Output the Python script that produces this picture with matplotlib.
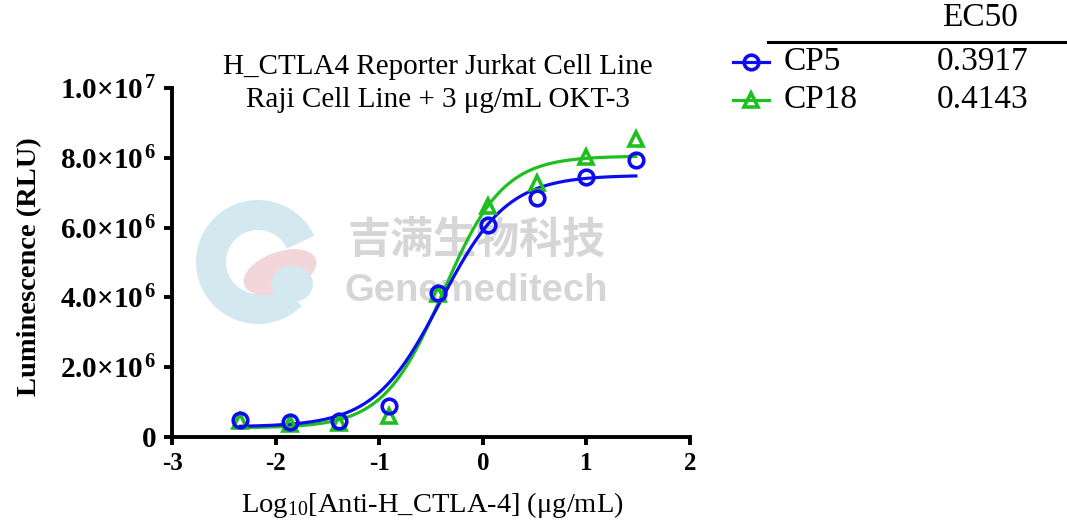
import numpy as np
import matplotlib
matplotlib.use("Agg")
import matplotlib.pyplot as plt
from matplotlib.lines import Line2D
from matplotlib.patches import Wedge, Ellipse

plt.rcParams['font.family'] = ['Liberation Serif', 'DejaVu Serif']
plt.rcParams['mathtext.fontset'] = 'custom'
plt.rcParams['mathtext.rm'] = 'Liberation Serif'
plt.rcParams['mathtext.it'] = 'Liberation Serif:italic'
plt.rcParams['mathtext.bf'] = 'Liberation Serif:bold'

# ---- data ----
log_conc = [-2.340, -1.863, -1.385, -0.908, -0.431, 0.046, 0.523, 1.000, 1.477]
cp5_rlu = [0.49e6, 0.43e6, 0.46e6, 0.89e6, 4.13e6, 6.08e6, 6.84e6, 7.45e6, 7.94e6]
cp18_rlu = [0.45e6, 0.38e6, 0.40e6, 0.60e6, 4.10e6, 6.63e6, 7.28e6, 8.02e6, 8.55e6]

series_names = ["CP5", "CP18"]
ec50_labels = ["0.3917", "0.4143"]
# 4PL fit parameters (bottom, top, EC50 ug/mL, hill)
cp5_fit = [0.29e6, 7.50e6, 0.3917, 1.35]
cp18_fit = [0.26e6, 8.05e6, 0.4143, 1.50]

xticks = [-3, -2, -1, 0, 1, 2]
yticks = [0, 2e6, 4e6, 6e6, 8e6, 1e7]
ytick_labels = ["0", r"$\mathbf{2.0{\times}10^{\,6}}$", r"$\mathbf{4.0{\times}10^{\,6}}$",
                r"$\mathbf{6.0{\times}10^{\,6}}$", r"$\mathbf{8.0{\times}10^{\,6}}$",
                r"$\mathbf{1.0{\times}10^{\,7}}$"]

blue = '#0c0cee'
green = '#1fbf1f'

W, H = 1067, 530


def fx(px):
    return px / W


def fy(py):
    return 1 - py / H


def fourpl(x, p):
    b, t, ec, h = p
    return b + (t - b) / (1 + 10 ** ((np.log10(ec) - x) * h))


fig = plt.figure(figsize=(10.67, 5.30), dpi=100)
ax = fig.add_axes([0.1612, 0.1755, 0.4855, 0.6585])

# watermark
wm = fig.add_axes([0, 0, 1, 1], zorder=-1)
wm.set_xlim(0, W); wm.set_ylim(H, 0); wm.axis('off')
wm.add_patch(Wedge((258, 262), 62, 45, 335, width=30, facecolor='#d3e8ef', edgecolor='none'))
wm.add_patch(Ellipse((280, 272), 76, 40, angle=-20, facecolor='#f3d6da', edgecolor='none'))
wm.add_patch(Ellipse((292, 284), 42, 36, facecolor='#d3e8ef', edgecolor='none'))
wm.text(476, 240, "吉满生物科技", fontsize=31, fontweight='bold', color='#d6d6d6',
        family=['Noto Sans CJK SC'], ha='center', va='center')
wm.text(476, 291, "Genemeditech", fontsize=27.5, fontweight='bold', color='#d6d6d6',
        family=['Liberation Sans'], ha='center', va='center')
ax.patch.set_alpha(0)

xs = np.linspace(log_conc[0], log_conc[-1], 300)
ax.plot(xs, fourpl(xs, cp18_fit), color=green, lw=2.3, zorder=2)
ax.plot(xs, fourpl(xs, cp5_fit), color=blue, lw=2.3, zorder=3)
ax.plot(log_conc, cp18_rlu, linestyle='none', marker='^', markersize=10,
        markerfacecolor='none', markeredgecolor=green, markeredgewidth=2.6, zorder=4)
ax.plot(log_conc, cp5_rlu, linestyle='none', marker='o', markersize=10.5,
        markerfacecolor='none', markeredgecolor=blue, markeredgewidth=2.6, zorder=5)

ax.set_xlim(-3, 2)
ax.set_ylim(0, 1e7)
ax.set_xticks(xticks)
ax.set_xticklabels([str(v) for v in xticks])
ax.set_yticks(yticks)
ax.set_yticklabels(ytick_labels)
for s in ['top', 'right']:
    ax.spines[s].set_visible(False)
for s in ['left', 'bottom']:
    ax.spines[s].set_linewidth(2.8)
ax.tick_params(axis='both', width=2.8, length=6, pad=5)
ax.tick_params(axis='x', labelsize=18)
ax.tick_params(axis='y', labelsize=21)
for lab in ax.get_xticklabels() + ax.get_yticklabels():
    lab.set_fontweight('bold')

fig.text(fx(30), fy(267), "Luminescence (RLU)", fontsize=20.5, fontweight='bold',
         rotation=90, ha='center', va='center')
fig.text(fx(432), fy(505), r"Log$_{10}$[Anti-H_CTLA-4] (μg/mL)", fontsize=20.5,
         ha='center', va='center')
fig.text(fx(438), fy(67), "H_CTLA4 Reporter Jurkat Cell Line", fontsize=21,
         ha='center', va='center')
fig.text(fx(438), fy(100), "Raji Cell Line + 3 μg/mL OKT-3", fontsize=21,
         ha='center', va='center')

# legend table
fig.text(fx(980), fy(18), "EC50", fontsize=24, ha='center', va='center')
fig.add_artist(Line2D([fx(768), fx(1067)], [fy(42), fy(42)], color='black', lw=2.2))
row_y = [62, 100]
styles = [(blue, 'o', 10.5), (green, '^', 10)]
for i, (name, val) in enumerate(zip(series_names, ec50_labels)):
    c, m, ms = styles[i]
    y = fy(row_y[i])
    fig.add_artist(Line2D([fx(733), fx(751), fx(769)], [y, y, y], color=c, lw=2.3,
                          marker=m, markersize=ms, markevery=[1],
                          markerfacecolor='none', markeredgewidth=2.6))
    fig.text(fx(784), y, name, fontsize=24, ha='left', va='center')
    fig.text(fx(937), y, val, fontsize=24, ha='left', va='center')

fig.savefig("out.png", dpi=100)
